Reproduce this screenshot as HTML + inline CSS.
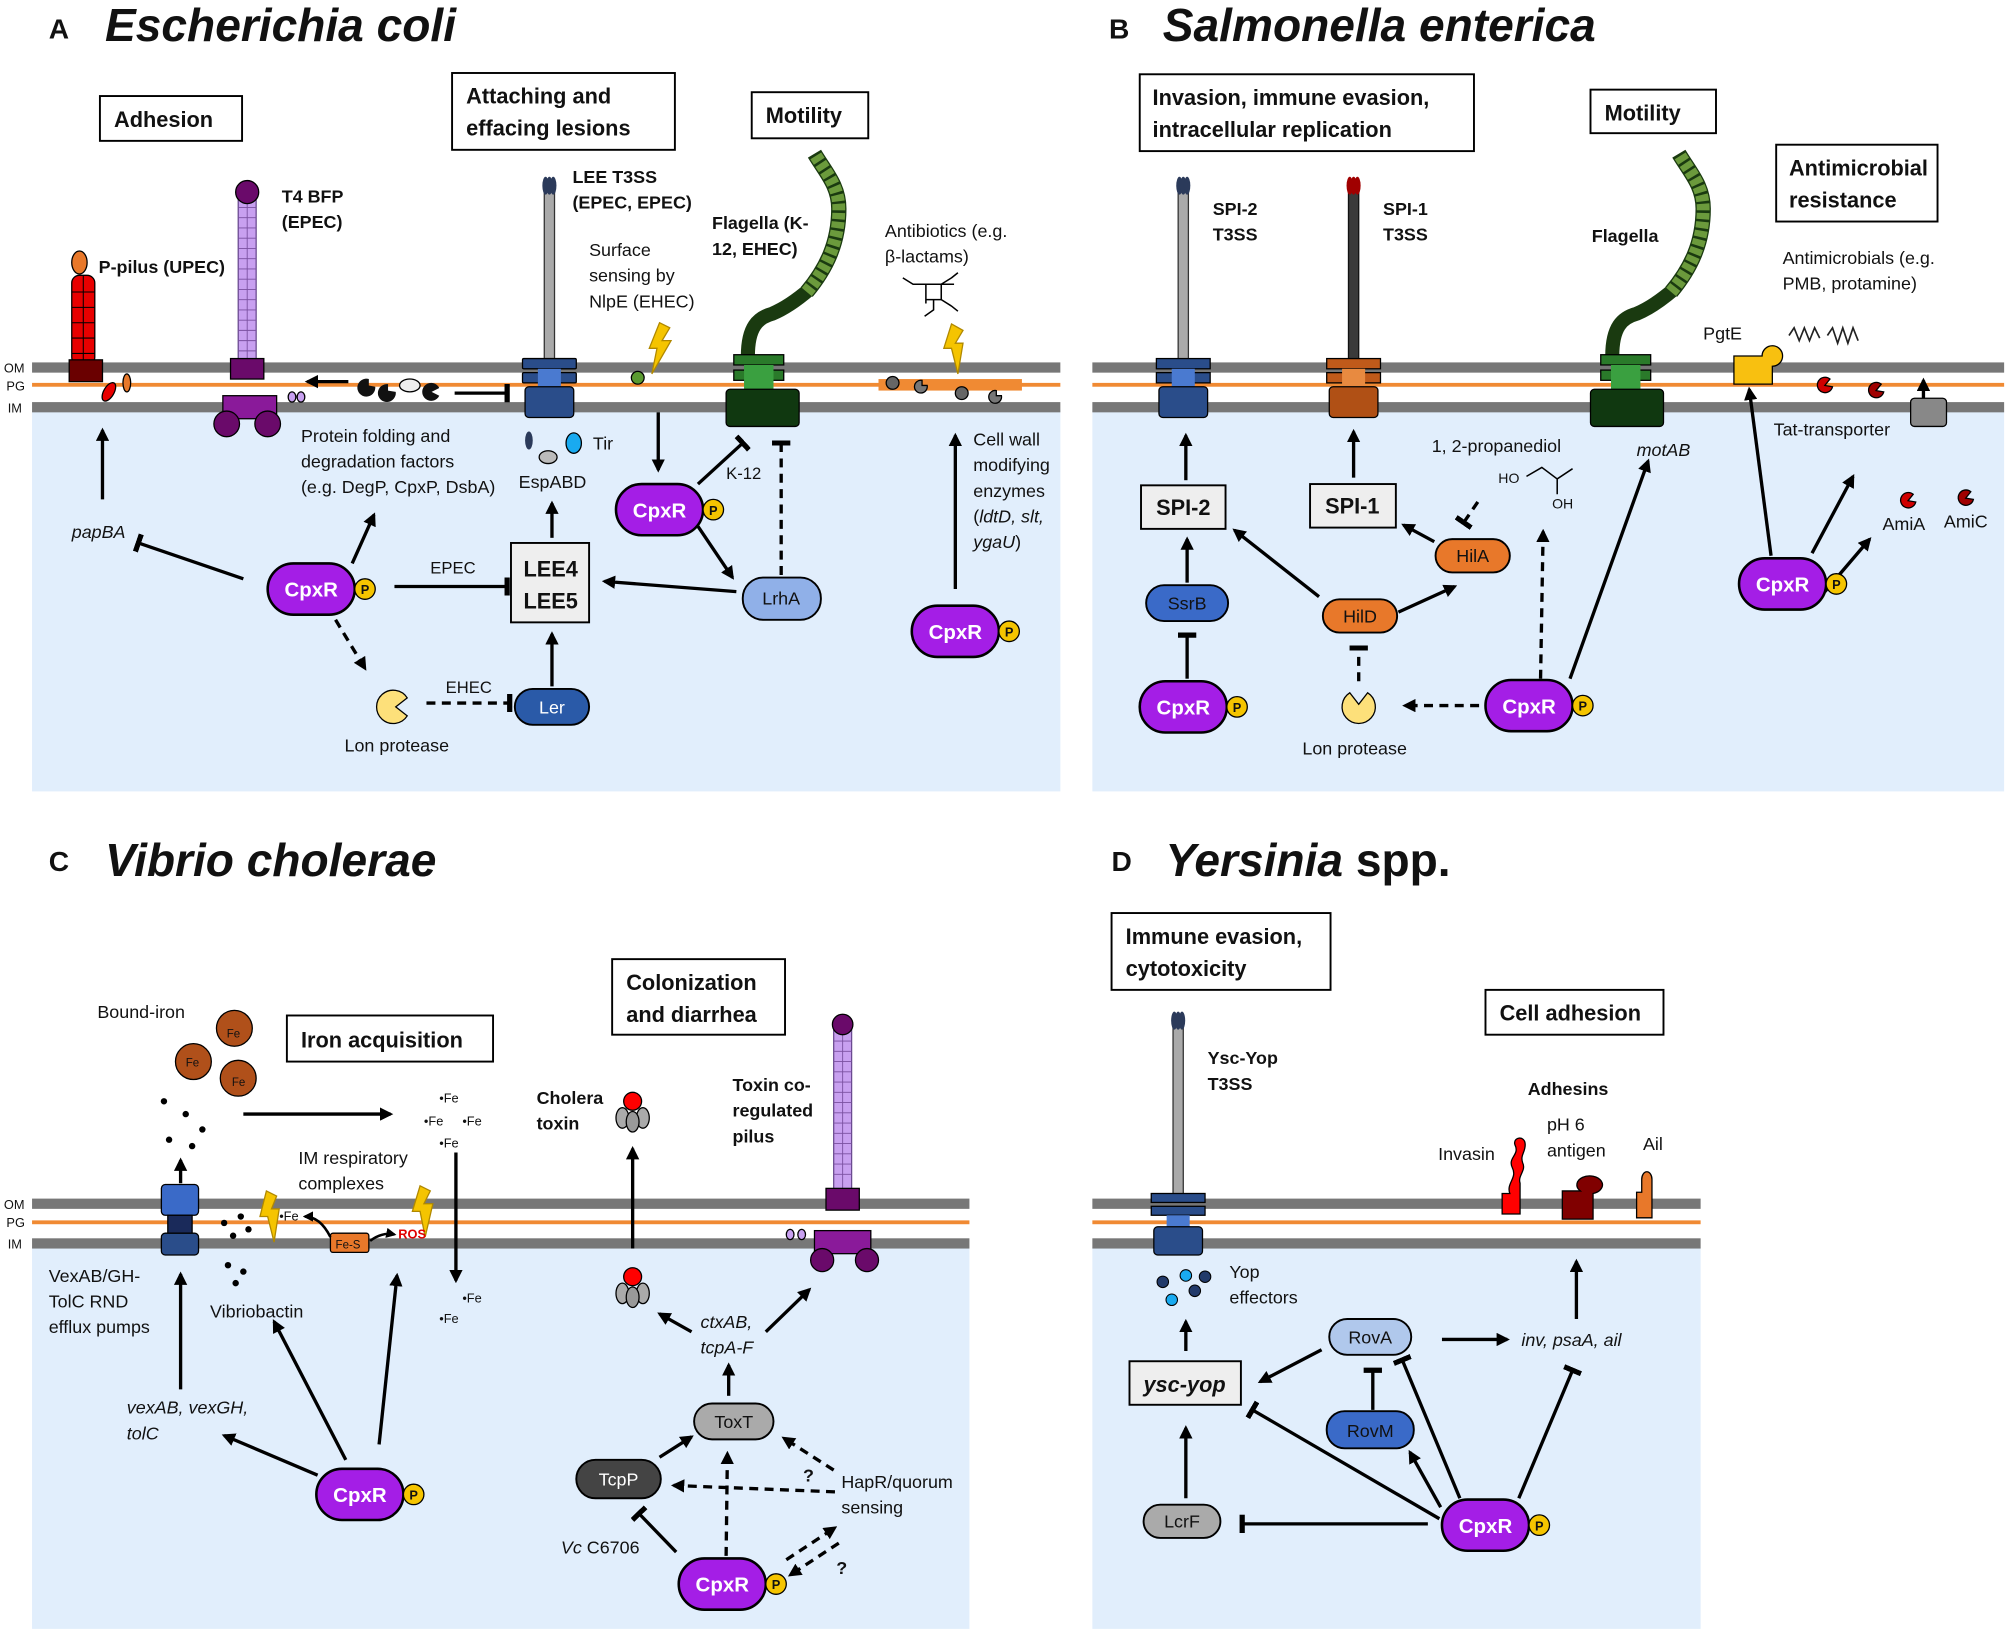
<!DOCTYPE html>
<html><head><meta charset="utf-8"><style>
html,body{margin:0;padding:0;background:#fff}
svg{display:block}
text{font-family:"Liberation Sans",sans-serif;fill:#111}
.t{font-size:14px}
.b{font-weight:bold}
.i{font-style:italic}
.box{fill:#fff;stroke:#000;stroke-width:1.5}
.ln{stroke:#000;stroke-width:2.6;fill:none}
.da{stroke:#000;stroke-width:2.6;fill:none;stroke-dasharray:7 5}
.hd{font-size:17px;font-weight:bold}
</style></head><body>
<svg width="2008" height="1634" viewBox="0 0 1568 1276" xmlns="http://www.w3.org/2000/svg">
<defs>
<marker id="ar" viewBox="0 0 10 10" refX="8" refY="5" markerWidth="4" markerHeight="4" orient="auto-start-reverse"><path d="M0,0L10,5L0,10z" fill="#000"/></marker>
<marker id="br" viewBox="0 0 4 14" refX="2" refY="7" markerWidth="1.6" markerHeight="5.5" orient="auto"><rect x="0" y="0" width="4" height="14" fill="#000"/></marker>
</defs>

<!-- backgrounds -->
<rect x="25" y="320" width="803" height="298" fill="#e1eefc"/>
<rect x="853" y="320" width="712" height="298" fill="#e1eefc"/>
<rect x="25" y="974" width="732" height="298" fill="#e1eefc"/>
<rect x="853" y="974" width="475" height="298" fill="#e1eefc"/>
<!-- membranes -->
<g>
<rect x="25" y="283" width="803" height="8" fill="#777"/><rect x="25" y="299" width="803" height="3" fill="#f08a33"/><rect x="25" y="314" width="803" height="8" fill="#777"/>
<rect x="853" y="283" width="712" height="8" fill="#777"/><rect x="853" y="299" width="712" height="3" fill="#f08a33"/><rect x="853" y="314" width="712" height="8" fill="#777"/>
<rect x="25" y="936" width="732" height="8" fill="#777"/><rect x="25" y="953" width="732" height="3" fill="#f08a33"/><rect x="25" y="967" width="732" height="8" fill="#777"/>
<rect x="853" y="936" width="475" height="8" fill="#777"/><rect x="853" y="953" width="475" height="3" fill="#f08a33"/><rect x="853" y="967" width="475" height="8" fill="#777"/>
</g>
<g font-size="10"><text x="3" y="291">OM</text><text x="5" y="305">PG</text><text x="6" y="322">IM</text>
<text x="3" y="944">OM</text><text x="5" y="958">PG</text><text x="6" y="975">IM</text></g>

<!-- Titles -->
<text x="38" y="30" font-size="22" class="b">A</text><text x="82" y="32" font-size="36" class="b i">Escherichia coli</text>
<text x="866" y="30" font-size="22" class="b">B</text><text x="908" y="32" font-size="36" class="b i">Salmonella enterica</text>
<text x="38" y="680" font-size="22" class="b">C</text><text x="82" y="684" font-size="36" class="b i">Vibrio cholerae</text>
<text x="868" y="680" font-size="22" class="b">D</text><text x="910" y="684" font-size="36" class="b"><tspan class="i">Yersinia</tspan> spp.</text>

<!-- ===== PANEL A ===== -->
<rect class="box" x="78" y="75" width="111" height="35"/><text x="89" y="99" class="hd">Adhesion</text>
<rect class="box" x="353" y="57" width="174" height="60"/><text x="364" y="81" class="hd">Attaching and</text><text x="364" y="106" class="hd">effacing lesions</text>
<rect class="box" x="587" y="72" width="91" height="36"/><text x="598" y="96" class="hd">Motility</text>

<!-- P-pilus -->
<ellipse cx="62" cy="205" rx="6" ry="9" fill="#e8782a" stroke="#000"/>
<rect x="56" y="215" width="18" height="70" rx="6" fill="#e80000" stroke="#000"/>
<g stroke="#000" fill="none" stroke-width="0.8"><path d="M56,228h18M56,240h18M56,252h18M56,264h18M56,276h18M65,215v70"/></g>
<rect x="54" y="281" width="26" height="17" fill="#6a0000" stroke="#000"/>
<ellipse cx="85" cy="306" rx="4" ry="8" transform="rotate(30 85 306)" fill="#e80000" stroke="#000"/>
<ellipse cx="99" cy="299" rx="3" ry="7" fill="#e8782a" stroke="#000"/>
<text x="77" y="213" class="t b">P-pilus (UPEC)</text>
<!-- T4 BFP -->
<rect x="186" y="152" width="14" height="135" fill="#c8a0f0" stroke="#6a4a90"/>
<g stroke="#7a50a0" stroke-width="0.7"><path d="M186,162h14M186,170h14M186,178h14M186,186h14M186,194h14M186,202h14M186,210h14M186,218h14M186,226h14M186,234h14M186,242h14M186,250h14M186,258h14M186,266h14M186,274h14M193,152v135"/></g>
<circle cx="193" cy="150" r="9" fill="#6a0a6a" stroke="#000"/>
<rect x="180" y="280" width="26" height="16" fill="#6a0a6a" stroke="#000"/>
<rect x="174" y="309" width="42" height="18" fill="#8a1a9a" stroke="#000"/>
<circle cx="177" cy="331" r="10" fill="#6a0a6a" stroke="#000"/><circle cx="209" cy="331" r="10" fill="#6a0a6a" stroke="#000"/>
<text x="220" y="158" class="t b">T4 BFP</text><text x="220" y="178" class="t b">(EPEC)</text>
<ellipse cx="228" cy="310" rx="3" ry="4" fill="#c8a0f0" stroke="#000"/><ellipse cx="235" cy="310" rx="3" ry="4" fill="#c8a0f0" stroke="#000"/>
<line class="ln" x1="272" y1="298" x2="240" y2="298" marker-end="url(#ar)"/>
<path d="M288,296 a7,7 0 1,0 5,6 l-5,-1z" fill="#111"/><path d="M303,300 a7,7 0 1,0 6,6 l-6,-1z" fill="#111"/>
<ellipse cx="320" cy="301" rx="8" ry="5" fill="#eee" stroke="#000"/>
<path d="M343,303 a7,7 0 1,0 0,6 l-6,-3z" fill="#111"/>
<line class="ln" x1="355" y1="307" x2="396" y2="307" marker-end="url(#br)"/>
<!-- LEE T3SS -->
<rect x="425" y="150" width="8" height="132" fill="#aaa" stroke="#333"/>
<ellipse cx="426" cy="145" rx="2.5" ry="7" fill="#2b3a5a"/><ellipse cx="429" cy="145" rx="2.5" ry="7" fill="#2b3a5a"/><ellipse cx="432" cy="145" rx="2.5" ry="7" fill="#2b3a5a"/>
<rect x="408" y="280" width="42" height="8" rx="1" fill="#2a4d8a" stroke="#000"/>
<rect x="408" y="291" width="42" height="8" rx="1" fill="#2a4d8a" stroke="#000"/>
<rect x="420" y="288" width="18" height="14" fill="#4a7ad0"/>
<rect x="410" y="302" width="38" height="24" rx="3" fill="#2a4d8a" stroke="#000"/>
<text x="447" y="143" class="t b">LEE T3SS</text><text x="447" y="163" class="t b">(EPEC, EPEC)</text>
<ellipse cx="413" cy="344" rx="3" ry="7" fill="#2b3a5a"/><ellipse cx="428" cy="357" rx="7" ry="5" fill="#bbb" stroke="#000"/><ellipse cx="448" cy="346" rx="6" ry="8" fill="#19aaf0" stroke="#000"/>
<text x="463" y="351" class="t">Tir</text><text x="405" y="381" class="t">EspABD</text>
<line class="ln" x1="431" y1="420" x2="431" y2="393" marker-end="url(#ar)"/>
<rect x="399" y="424" width="61" height="62" fill="#eee" stroke="#000" stroke-width="1.5"/>
<text x="430" y="450" font-size="17" class="b" text-anchor="middle">LEE4</text><text x="430" y="475" font-size="17" class="b" text-anchor="middle">LEE5</text>
<text x="460" y="200" class="t">Surface</text><text x="460" y="220" class="t">sensing by</text><text x="460" y="240" class="t">NlpE (EHEC)</text>
<polygon points="515,252 523,256 517,266 524,266 509,292 513,272 507,272" fill="#f5c400" stroke="#b08800"/>
<circle cx="498" cy="295" r="5" fill="#5a9a30" stroke="#000"/>
<line class="ln" x1="514" y1="322" x2="514" y2="367" marker-end="url(#ar)"/>
<!-- Flagella A -->
<path d="M584,278 C584,255 592,248 603,245 C615,240 625,232 632,226" stroke="#1a3a10" stroke-width="11" fill="none"/>
<path d="M630,228 C645,210 655,190 655,163 C655,145 645,135 636,120" stroke="#1a3a10" stroke-width="12" fill="none"/>
<path d="M630,228 C645,210 655,190 655,163 C655,145 645,135 636,120" stroke="#6b9a3c" stroke-width="10" fill="none" stroke-dasharray="5 2"/>
<rect x="573" y="277" width="39" height="8" fill="#2a7a2a" stroke="#000"/><rect x="573" y="289" width="39" height="8" fill="#2a7a2a" stroke="#000"/>
<rect x="581" y="285" width="23" height="20" fill="#3aa040"/>
<rect x="567" y="304" width="57" height="29" rx="3" fill="#103810" stroke="#000"/>
<text x="556" y="179" class="t b">Flagella (K-</text><text x="556" y="199" class="t b">12, EHEC)</text>
<text x="691" y="185" class="t">Antibiotics (e.g.</text><text x="691" y="205" class="t">β-lactams)</text>
<g stroke="#000" stroke-width="1.2" fill="none"><path d="M705,217 l8,5 h10 v15 M723,222 h12 v12 h-12 M735,222 l8,-5 M735,234 l8,5 M729,234 v8 l-7,5 M743,217 l5,-4 M743,239 l5,4 M735,222 l10,0"/></g>
<polygon points="743,253 752,258 746,268 752,268 748,292 743,272 737,272" fill="#f5c400" stroke="#b08800"/>
<rect x="686" y="296" width="112" height="9" fill="#f08a33"/>
<circle cx="697" cy="299" r="5" fill="#666" stroke="#000"/><path d="M720,297 a5,5 0 1,0 4,4 l-4,0z" fill="#777" stroke="#000"/>
<circle cx="751" cy="307" r="5" fill="#666" stroke="#000"/><path d="M778,305 a5,5 0 1,0 4,4 l-4,0z" fill="#777" stroke="#000"/>
<text x="760" y="348" class="t">Cell wall</text><text x="760" y="368" class="t">modifying</text><text x="760" y="388" class="t">enzymes</text>
<text x="760" y="408" class="t">(<tspan class="i">ldtD, slt,</tspan></text><text x="760" y="428" class="t"><tspan class="i">ygaU</tspan>)</text>
<line class="ln" x1="746" y1="460" x2="746" y2="340" marker-end="url(#ar)"/>
<text x="235" y="345" class="t">Protein folding and</text><text x="235" y="365" class="t">degradation factors</text><text x="235" y="385" class="t">(e.g. DegP, CpxP, DsbA)</text>
<line class="ln" x1="275" y1="440" x2="292" y2="402" marker-end="url(#ar)"/>
<line class="ln" x1="190" y1="452" x2="108" y2="424" marker-end="url(#br)"/>
<text x="56" y="420" class="t i">papBA</text>
<line class="ln" x1="80" y1="390" x2="80" y2="336" marker-end="url(#ar)"/>
<line class="ln" x1="308" y1="458" x2="396" y2="458" marker-end="url(#br)"/><text x="336" y="448" font-size="13">EPEC</text>
<line class="da" x1="262" y1="484" x2="285" y2="522" marker-end="url(#ar)"/>
<path d="M318,545 a13,13 0 1,0 0,14 l-9,-7z" fill="#fde07a" stroke="#000"/>
<text x="269" y="587" class="t">Lon protease</text>
<line class="da" x1="333" y1="549" x2="398" y2="549" marker-end="url(#br)"/><text x="348" y="541" font-size="13">EHEC</text>
<rect x="402" y="538" width="58" height="28" rx="14" fill="#2a5aa8" stroke="#000" stroke-width="1.5"/><text x="431" y="557" class="t" text-anchor="middle" style="fill:#fff">Ler</text>
<line class="ln" x1="431" y1="536" x2="431" y2="495" marker-end="url(#ar)"/>
<rect x="580" y="451" width="61" height="33" rx="16" fill="#90b0e8" stroke="#000" stroke-width="1.5"/><text x="610" y="472" class="t" text-anchor="middle">LrhA</text>
<line class="ln" x1="575" y1="462" x2="472" y2="454" marker-end="url(#ar)"/>
<line class="ln" x1="545" y1="411" x2="572" y2="451" marker-end="url(#ar)"/>
<line class="ln" x1="545" y1="378" x2="580" y2="346" marker-end="url(#br)"/><text x="567" y="374" font-size="13">K-12</text>
<line class="da" x1="610" y1="449" x2="610" y2="346" marker-end="url(#br)"/>

<!-- CpxR nodes -->
<g transform="translate(243,460)"><rect x="-34" y="-20" width="68" height="40" rx="20" fill="#a41ee6" stroke="#000" stroke-width="2"/><circle cx="42" cy="0" r="8" fill="#f5c400" stroke="#000"/><text x="0" y="6" font-size="16" class="b" text-anchor="middle" style="fill:#fff">CpxR</text><text x="42" y="4" font-size="10" class="b" text-anchor="middle">P</text></g>
<g transform="translate(515,398)"><rect x="-34" y="-20" width="68" height="40" rx="20" fill="#a41ee6" stroke="#000" stroke-width="2"/><circle cx="42" cy="0" r="8" fill="#f5c400" stroke="#000"/><text x="0" y="6" font-size="16" class="b" text-anchor="middle" style="fill:#fff">CpxR</text><text x="42" y="4" font-size="10" class="b" text-anchor="middle">P</text></g>
<g transform="translate(746,493)"><rect x="-34" y="-20" width="68" height="40" rx="20" fill="#a41ee6" stroke="#000" stroke-width="2"/><circle cx="42" cy="0" r="8" fill="#f5c400" stroke="#000"/><text x="0" y="6" font-size="16" class="b" text-anchor="middle" style="fill:#fff">CpxR</text><text x="42" y="4" font-size="10" class="b" text-anchor="middle">P</text></g>

<!-- ===== PANEL B ===== -->
<rect class="box" x="890" y="58" width="261" height="60"/><text x="900" y="82" class="hd">Invasion, immune evasion,</text><text x="900" y="107" class="hd">intracellular replication</text>
<rect class="box" x="1242" y="70" width="98" height="34"/><text x="1253" y="94" class="hd">Motility</text>
<rect class="box" x="1387" y="113" width="126" height="60"/><text x="1397" y="137" class="hd">Antimicrobial</text><text x="1397" y="162" class="hd">resistance</text>
<!-- SPI-2 -->
<rect x="920" y="150" width="8" height="132" fill="#aaa" stroke="#333"/>
<ellipse cx="921" cy="145" rx="2.5" ry="7" fill="#2b3a5a"/><ellipse cx="924" cy="145" rx="2.5" ry="7" fill="#2b3a5a"/><ellipse cx="927" cy="145" rx="2.5" ry="7" fill="#2b3a5a"/>
<rect x="903" y="280" width="42" height="8" fill="#2a4d8a" stroke="#000"/><rect x="903" y="291" width="42" height="8" fill="#2a4d8a" stroke="#000"/>
<rect x="915" y="288" width="18" height="14" fill="#4a7ad0"/><rect x="905" y="302" width="38" height="24" rx="3" fill="#2a4d8a" stroke="#000"/>
<text x="947" y="168" class="t b">SPI-2</text><text x="947" y="188" class="t b">T3SS</text>
<!-- SPI-1 -->
<rect x="1053" y="150" width="8" height="132" fill="#3a3a3a" stroke="#111"/>
<ellipse cx="1054" cy="145" rx="2.5" ry="7" fill="#a00000"/><ellipse cx="1057" cy="145" rx="2.5" ry="7" fill="#a00000"/><ellipse cx="1060" cy="145" rx="2.5" ry="7" fill="#a00000"/>
<rect x="1036" y="280" width="42" height="8" fill="#c05a1a" stroke="#000"/><rect x="1036" y="291" width="42" height="8" fill="#c05a1a" stroke="#000"/>
<rect x="1048" y="288" width="18" height="14" fill="#e88a40"/><rect x="1038" y="302" width="38" height="24" rx="3" fill="#b05015" stroke="#000"/>
<text x="1080" y="168" class="t b">SPI-1</text><text x="1080" y="188" class="t b">T3SS</text>
<!-- Flagella B -->
<path d="M1259,278 C1259,255 1267,248 1278,245 C1290,240 1300,232 1307,226" stroke="#1a3a10" stroke-width="11" fill="none"/>
<path d="M1305,228 C1320,210 1330,190 1330,163 C1330,145 1320,135 1311,120" stroke="#1a3a10" stroke-width="12" fill="none"/>
<path d="M1305,228 C1320,210 1330,190 1330,163 C1330,145 1320,135 1311,120" stroke="#6b9a3c" stroke-width="10" fill="none" stroke-dasharray="5 2"/>
<rect x="1250" y="277" width="39" height="8" fill="#2a7a2a" stroke="#000"/><rect x="1250" y="289" width="39" height="8" fill="#2a7a2a" stroke="#000"/>
<rect x="1258" y="285" width="23" height="20" fill="#3aa040"/><rect x="1242" y="304" width="57" height="29" rx="3" fill="#103810" stroke="#000"/>
<text x="1243" y="189" class="t b">Flagella</text>
<text x="1278" y="356" class="t i">motAB</text>
<path d="M1354,278 h22 a8,8 0 1,1 8,8 v14 h-30z" fill="#f8c010" stroke="#000"/>
<text x="1330" y="265" class="t">PgtE</text>
<text x="1392" y="206" class="t">Antimicrobials (e.g.</text><text x="1392" y="226" class="t">PMB, protamine)</text>
<path d="M1397,262 l4,-6 l4,10 l4,-10 l4,10 l4,-10 l4,8" stroke="#222" stroke-width="1.3" fill="none"/>
<path d="M1427,262 l4,-6 l4,12 l4,-12 l4,12 l4,-12 l4,10" stroke="#222" stroke-width="1.3" fill="none"/>
<path d="M1429,296 a6,6 0 1,0 2,6 l-6,-1z" fill="#d00000" stroke="#000"/><path d="M1469,300 a6,6 0 1,0 2,6 l-6,-1z" fill="#a00000" stroke="#000"/>
<rect x="1492" y="311" width="28" height="22" rx="3" fill="#888" stroke="#000"/>
<line class="ln" x1="1502" y1="311" x2="1502" y2="297" stroke-width="2" marker-end="url(#ar)"/>
<text x="1385" y="340" class="t">Tat-transporter</text>
<path d="M1494,386 a6,6 0 1,0 2,6 l-6,-1z" fill="#d00000" stroke="#000"/><text x="1470" y="414" class="t">AmiA</text>
<path d="M1539,384 a6,6 0 1,0 2,6 l-6,-1z" fill="#a00000" stroke="#000"/><text x="1518" y="412" class="t">AmiC</text>
<line class="ln" x1="1383" y1="434" x2="1366" y2="304" marker-end="url(#ar)"/>
<line class="ln" x1="1415" y1="432" x2="1447" y2="372" marker-end="url(#ar)"/>
<line class="ln" x1="1425" y1="462" x2="1460" y2="421" marker-end="url(#ar)"/>
<rect x="891" y="379" width="66" height="34" fill="#eee" stroke="#000" stroke-width="1.5"/><text x="924" y="402" font-size="17" class="b" text-anchor="middle">SPI-2</text>
<rect x="1023" y="378" width="67" height="34" fill="#eee" stroke="#000" stroke-width="1.5"/><text x="1056" y="401" font-size="17" class="b" text-anchor="middle">SPI-1</text>
<line class="ln" x1="926" y1="375" x2="926" y2="340" marker-end="url(#ar)"/>
<line class="ln" x1="1057" y1="373" x2="1057" y2="337" marker-end="url(#ar)"/>
<rect x="895" y="457" width="64" height="28" rx="14" fill="#3a6ac8" stroke="#000" stroke-width="1.5"/><text x="927" y="476" class="t" text-anchor="middle">SsrB</text>
<line class="ln" x1="927" y1="455" x2="927" y2="421" marker-end="url(#ar)"/>
<line class="ln" x1="927" y1="530" x2="927" y2="496" marker-end="url(#br)"/>
<rect x="1033" y="468" width="58" height="26" rx="13" fill="#e8782a" stroke="#000" stroke-width="1.5"/><text x="1062" y="486" class="t" text-anchor="middle">HilD</text>
<rect x="1121" y="421" width="58" height="26" rx="13" fill="#e8782a" stroke="#000" stroke-width="1.5"/><text x="1150" y="439" class="t" text-anchor="middle">HilA</text>
<line class="ln" x1="1030" y1="466" x2="964" y2="414" marker-end="url(#ar)"/>
<line class="ln" x1="1092" y1="478" x2="1136" y2="458" marker-end="url(#ar)"/>
<line class="ln" x1="1120" y1="423" x2="1096" y2="410" marker-end="url(#ar)"/>
<text x="1118" y="353" class="t">1, 2-propanediol</text>
<g stroke="#000" stroke-width="1.2" fill="none"><path d="M1192,372 l12,-7 l12,9 l12,-8 M1216,374 v12"/></g>
<text x="1170" y="377" font-size="11">HO</text><text x="1212" y="397" font-size="11">OH</text>
<line class="da" x1="1154" y1="392" x2="1143" y2="408" marker-end="url(#br)"/>
<line class="da" x1="1203" y1="530" x2="1205" y2="415" marker-end="url(#ar)"/>
<line class="ln" x1="1226" y1="530" x2="1287" y2="360" marker-end="url(#ar)"/>
<path d="M1072,545 a13,13 0 1,0 0,14 l-9,-7z" transform="rotate(-90 1061 552)" fill="#fde07a" stroke="#000"/>
<line class="da" x1="1061" y1="532" x2="1061" y2="506" marker-end="url(#br)"/>
<text x="1017" y="589" class="t">Lon protease</text>
<line class="da" x1="1155" y1="551" x2="1097" y2="551" marker-end="url(#ar)"/>
<g transform="translate(924,552)"><rect x="-34" y="-20" width="68" height="40" rx="20" fill="#a41ee6" stroke="#000" stroke-width="2"/><circle cx="42" cy="0" r="8" fill="#f5c400" stroke="#000"/><text x="0" y="6" font-size="16" class="b" text-anchor="middle" style="fill:#fff">CpxR</text><text x="42" y="4" font-size="10" class="b" text-anchor="middle">P</text></g>
<g transform="translate(1194,551)"><rect x="-34" y="-20" width="68" height="40" rx="20" fill="#a41ee6" stroke="#000" stroke-width="2"/><circle cx="42" cy="0" r="8" fill="#f5c400" stroke="#000"/><text x="0" y="6" font-size="16" class="b" text-anchor="middle" style="fill:#fff">CpxR</text><text x="42" y="4" font-size="10" class="b" text-anchor="middle">P</text></g>
<g transform="translate(1392,456)"><rect x="-34" y="-20" width="68" height="40" rx="20" fill="#a41ee6" stroke="#000" stroke-width="2"/><circle cx="42" cy="0" r="8" fill="#f5c400" stroke="#000"/><text x="0" y="6" font-size="16" class="b" text-anchor="middle" style="fill:#fff">CpxR</text><text x="42" y="4" font-size="10" class="b" text-anchor="middle">P</text></g>

<!-- ===== PANEL C ===== -->
<text x="76" y="795" class="t">Bound-iron</text>
<g fill="#b0501a" stroke="#000"><circle cx="183" cy="803" r="14"/><circle cx="151" cy="829" r="14"/><circle cx="186" cy="842" r="14"/></g>
<g font-size="9"><text x="177" y="810">Fe</text><text x="145" y="833">Fe</text><text x="181" y="848">Fe</text></g>
<rect class="box" x="224" y="793" width="161" height="36"/><text x="235" y="818" class="hd">Iron acquisition</text>
<g fill="#000"><circle cx="128" cy="860" r="2.5"/><circle cx="145" cy="870" r="2.5"/><circle cx="158" cy="882" r="2.5"/><circle cx="132" cy="890" r="2.5"/><circle cx="150" cy="895" r="2.5"/></g>
<line class="ln" x1="190" y1="870" x2="305" y2="870" marker-end="url(#ar)"/>
<g font-size="10"><text x="343" y="861">•Fe</text><text x="331" y="879">•Fe</text><text x="361" y="879">•Fe</text><text x="343" y="896">•Fe</text><text x="361" y="1017">•Fe</text><text x="343" y="1033">•Fe</text></g>
<line class="ln" x1="356" y1="900" x2="356" y2="1000" marker-end="url(#ar)"/>
<text x="233" y="909" class="t">IM respiratory</text><text x="233" y="929" class="t">complexes</text>
<rect x="126" y="925" width="29" height="24" rx="3" fill="#3a6ac8" stroke="#000"/>
<rect x="131" y="949" width="19" height="14" fill="#1a2a5a" stroke="#000"/>
<rect x="126" y="963" width="29" height="17" rx="3" fill="#2a4d8a" stroke="#000"/>
<line class="ln" x1="141" y1="924" x2="141" y2="906" marker-end="url(#ar)"/>
<g fill="#000"><circle cx="175" cy="955" r="2.5"/><circle cx="188" cy="950" r="2.5"/><circle cx="182" cy="965" r="2.5"/><circle cx="194" cy="960" r="2.5"/><circle cx="178" cy="988" r="2.5"/><circle cx="190" cy="993" r="2.5"/><circle cx="184" cy="1002" r="2.5"/></g>
<text x="164" y="1029" class="t">Vibriobactin</text>
<polygon points="208,930 216,934 212,944 218,944 214,970 209,950 203,950" fill="#f5c400" stroke="#b08800"/>
<polygon points="328,926 336,930 331,940 338,940 332,966 328,946 322,946" fill="#f5c400" stroke="#b08800"/>
<text x="218" y="953" font-size="10">•Fe</text>
<rect x="258" y="963" width="30" height="15" rx="2" fill="#e8782a" stroke="#000"/><text x="262" y="975" font-size="9">Fe-S</text>
<path d="M258,966 Q250,950 238,950" stroke="#000" stroke-width="2" fill="none" marker-end="url(#ar)"/>
<path d="M289,969 Q298,962 308,964" stroke="#000" stroke-width="2" fill="none" marker-end="url(#ar)"/>
<text x="311" y="967" font-size="10" class="b" style="fill:#e00000">ROS</text>
<text x="38" y="1001" class="t">VexAB/GH-</text><text x="38" y="1021" class="t">TolC RND</text><text x="38" y="1041" class="t">efflux pumps</text>
<line class="ln" x1="141" y1="1085" x2="141" y2="995" marker-end="url(#ar)"/>
<text x="99" y="1104" class="t i">vexAB, vexGH,</text><text x="99" y="1124" class="t i">tolC</text>
<line class="ln" x1="248" y1="1152" x2="175" y2="1121" marker-end="url(#ar)"/>
<line class="ln" x1="270" y1="1140" x2="214" y2="1032" marker-end="url(#ar)"/>
<line class="ln" x1="296" y1="1128" x2="310" y2="996" marker-end="url(#ar)"/>
<rect class="box" x="478" y="749" width="135" height="59"/><text x="489" y="773" class="hd">Colonization</text><text x="489" y="798" class="hd">and diarrhea</text>
<text x="419" y="862" class="t b">Cholera</text><text x="419" y="882" class="t b">toxin</text>
<g stroke="#000"><ellipse cx="486" cy="873" rx="5" ry="8" fill="#aaa"/><ellipse cx="502" cy="873" rx="5" ry="8" fill="#aaa"/><ellipse cx="494" cy="876" rx="5" ry="8" fill="#999"/><circle cx="494" cy="860" r="7" fill="#f00"/></g>
<line class="ln" x1="494" y1="975" x2="494" y2="897" marker-end="url(#ar)"/>
<g stroke="#000"><ellipse cx="486" cy="1010" rx="5" ry="8" fill="#aaa"/><ellipse cx="502" cy="1010" rx="5" ry="8" fill="#aaa"/><ellipse cx="494" cy="1013" rx="5" ry="8" fill="#999"/><circle cx="494" cy="997" r="7" fill="#f00"/></g>
<text x="572" y="852" class="t b">Toxin co-</text><text x="572" y="872" class="t b">regulated</text><text x="572" y="892" class="t b">pilus</text>
<rect x="651" y="803" width="14" height="130" fill="#c8a0f0" stroke="#6a4a90"/>
<g stroke="#7a50a0" stroke-width="0.7"><path d="M651,813h14M651,821h14M651,829h14M651,837h14M651,845h14M651,853h14M651,861h14M651,869h14M651,877h14M651,885h14M651,893h14M651,901h14M651,909h14M651,917h14M658,803v130"/></g>
<circle cx="658" cy="800" r="8" fill="#6a0a6a" stroke="#000"/>
<rect x="645" y="928" width="26" height="17" fill="#6a0a6a" stroke="#000"/>
<rect x="636" y="961" width="44" height="18" fill="#8a1a9a" stroke="#000"/>
<circle cx="642" cy="984" r="9" fill="#6a0a6a" stroke="#000"/><circle cx="677" cy="984" r="9" fill="#6a0a6a" stroke="#000"/>
<ellipse cx="617" cy="964" rx="3" ry="4" fill="#c8a0f0" stroke="#000"/><ellipse cx="626" cy="964" rx="3" ry="4" fill="#c8a0f0" stroke="#000"/>
<text x="547" y="1037" class="t i">ctxAB,</text><text x="547" y="1057" class="t i">tcpA-F</text>
<line class="ln" x1="540" y1="1040" x2="515" y2="1026" marker-end="url(#ar)"/>
<line class="ln" x1="598" y1="1040" x2="632" y2="1007" marker-end="url(#ar)"/>
<line class="ln" x1="569" y1="1090" x2="569" y2="1066" marker-end="url(#ar)"/>
<rect x="542" y="1096" width="62" height="28" rx="14" fill="#aaa" stroke="#000" stroke-width="1.5"/><text x="573" y="1115" class="t" text-anchor="middle">ToxT</text>
<rect x="450" y="1140" width="66" height="30" rx="15" fill="#444" stroke="#000" stroke-width="1.5"/><text x="483" y="1160" class="t" text-anchor="middle" style="fill:#fff">TcpP</text>
<line class="ln" x1="515" y1="1138" x2="540" y2="1122" marker-end="url(#ar)"/>
<line class="da" x1="567" y1="1215" x2="568" y2="1135" marker-end="url(#ar)"/>
<line class="da" x1="651" y1="1148" x2="612" y2="1123" marker-end="url(#ar)"/><text x="627" y="1157" class="t b">?</text>
<line class="da" x1="652" y1="1165" x2="526" y2="1160" marker-end="url(#ar)"/>
<text x="657" y="1162" class="t">HapR/quorum</text><text x="657" y="1182" class="t">sensing</text>
<line class="ln" x1="528" y1="1212" x2="499" y2="1182" marker-end="url(#br)"/>
<text x="438" y="1213" class="t"><tspan class="i">Vc</tspan> C6706</text>
<line class="da" x1="614" y1="1218" x2="652" y2="1193" marker-end="url(#ar)"/>
<line class="da" x1="655" y1="1205" x2="617" y2="1230" marker-end="url(#ar)"/>
<text x="653" y="1229" class="t b">?</text>
<g transform="translate(281,1167)"><rect x="-34" y="-20" width="68" height="40" rx="20" fill="#a41ee6" stroke="#000" stroke-width="2"/><circle cx="42" cy="0" r="8" fill="#f5c400" stroke="#000"/><text x="0" y="6" font-size="16" class="b" text-anchor="middle" style="fill:#fff">CpxR</text><text x="42" y="4" font-size="10" class="b" text-anchor="middle">P</text></g>
<g transform="translate(564,1237)"><rect x="-34" y="-20" width="68" height="40" rx="20" fill="#a41ee6" stroke="#000" stroke-width="2"/><circle cx="42" cy="0" r="8" fill="#f5c400" stroke="#000"/><text x="0" y="6" font-size="16" class="b" text-anchor="middle" style="fill:#fff">CpxR</text><text x="42" y="4" font-size="10" class="b" text-anchor="middle">P</text></g>

<!-- ===== PANEL D ===== -->
<rect class="box" x="868" y="713" width="171" height="60"/><text x="879" y="737" class="hd">Immune evasion,</text><text x="879" y="762" class="hd">cytotoxicity</text>
<rect class="box" x="1160" y="773" width="139" height="35"/><text x="1171" y="797" class="hd">Cell adhesion</text>
<rect x="916" y="800" width="8" height="134" fill="#aaa" stroke="#333"/>
<ellipse cx="917" cy="797" rx="2.5" ry="7" fill="#2b3a5a"/><ellipse cx="920" cy="797" rx="2.5" ry="7" fill="#2b3a5a"/><ellipse cx="923" cy="797" rx="2.5" ry="7" fill="#2b3a5a"/>
<rect x="899" y="932" width="42" height="7" fill="#2a4d8a" stroke="#000"/><rect x="899" y="942" width="42" height="7" fill="#2a4d8a" stroke="#000"/>
<rect x="911" y="949" width="18" height="10" fill="#4a7ad0"/><rect x="901" y="958" width="38" height="22" rx="3" fill="#2a4d8a" stroke="#000"/>
<text x="943" y="831" class="t b">Ysc-Yop</text><text x="943" y="851" class="t b">T3SS</text>
<text x="1193" y="855" class="t b">Adhesins</text>
<text x="1123" y="906" class="t">Invasin</text><text x="1208" y="883" class="t">pH 6</text><text x="1208" y="903" class="t">antigen</text><text x="1283" y="898" class="t">Ail</text>
<path d="M1173,948 v-16 h6 c-3,-8 6,-12 2,-20 c-4,-8 6,-10 2,-18 c-2,-6 8,-8 8,0 c0,6 -4,8 -2,14 c3,6 -4,10 -2,16 v24z" fill="#f00" stroke="#000"/>
<path d="M1220,952 v-22 h14 a10,7 0 1,1 10,2 v20z" fill="#800000" stroke="#000"/>
<path d="M1278,951 v-20 h4 v-10 a4,6 0 1,1 8,0 v30z" fill="#e8782a" stroke="#000"/>
<g stroke="#000" stroke-width="0.8"><circle cx="908" cy="1001" r="4.5" fill="#223a6a"/><circle cx="926" cy="996" r="4.5" fill="#19aaf0"/><circle cx="941" cy="997" r="4.5" fill="#223a6a"/><circle cx="933" cy="1008" r="4.5" fill="#223a6a"/><circle cx="915" cy="1015" r="4.5" fill="#19aaf0"/></g>
<text x="960" y="998" class="t">Yop</text><text x="960" y="1018" class="t">effectors</text>
<line class="ln" x1="926" y1="1055" x2="926" y2="1032" marker-end="url(#ar)"/>
<rect x="882" y="1063" width="87" height="34" fill="#eee" stroke="#000" stroke-width="1.5"/><text x="925" y="1087" font-size="17" class="b i" text-anchor="middle">ysc-yop</text>
<rect x="1038" y="1030" width="64" height="28" rx="14" fill="#b0c8ec" stroke="#000" stroke-width="1.5"/><text x="1070" y="1049" class="t" text-anchor="middle">RovA</text>
<rect x="1036" y="1102" width="68" height="29" rx="14" fill="#3a6ac8" stroke="#000" stroke-width="1.5"/><text x="1070" y="1122" class="t" text-anchor="middle">RovM</text>
<line class="ln" x1="1126" y1="1046" x2="1177" y2="1046" marker-end="url(#ar)"/>
<text x="1188" y="1051" class="t i">inv, psaA, ail</text>
<line class="ln" x1="1231" y1="1030" x2="1231" y2="985" marker-end="url(#ar)"/>
<line class="ln" x1="1032" y1="1054" x2="984" y2="1079" marker-end="url(#ar)"/>
<line class="ln" x1="1072" y1="1101" x2="1072" y2="1070" marker-end="url(#br)"/>
<line class="ln" x1="1125" y1="1177" x2="1101" y2="1134" marker-end="url(#ar)"/>
<line class="ln" x1="1140" y1="1170" x2="1095" y2="1062" marker-end="url(#br)"/>
<line class="ln" x1="1186" y1="1170" x2="1228" y2="1070" marker-end="url(#br)"/>
<line class="ln" x1="1124" y1="1186" x2="978" y2="1101" marker-end="url(#br)"/>
<line class="ln" x1="1115" y1="1190" x2="970" y2="1190" marker-end="url(#br)"/>
<rect x="893" y="1175" width="60" height="26" rx="13" fill="#aaa" stroke="#000" stroke-width="1.5"/><text x="923" y="1193" class="t" text-anchor="middle">LcrF</text>
<line class="ln" x1="926" y1="1170" x2="926" y2="1115" marker-end="url(#ar)"/>
<g transform="translate(1160,1191)"><rect x="-34" y="-20" width="68" height="40" rx="20" fill="#a41ee6" stroke="#000" stroke-width="2"/><circle cx="42" cy="0" r="8" fill="#f5c400" stroke="#000"/><text x="0" y="6" font-size="16" class="b" text-anchor="middle" style="fill:#fff">CpxR</text><text x="42" y="4" font-size="10" class="b" text-anchor="middle">P</text></g>
</svg>
</body></html>
